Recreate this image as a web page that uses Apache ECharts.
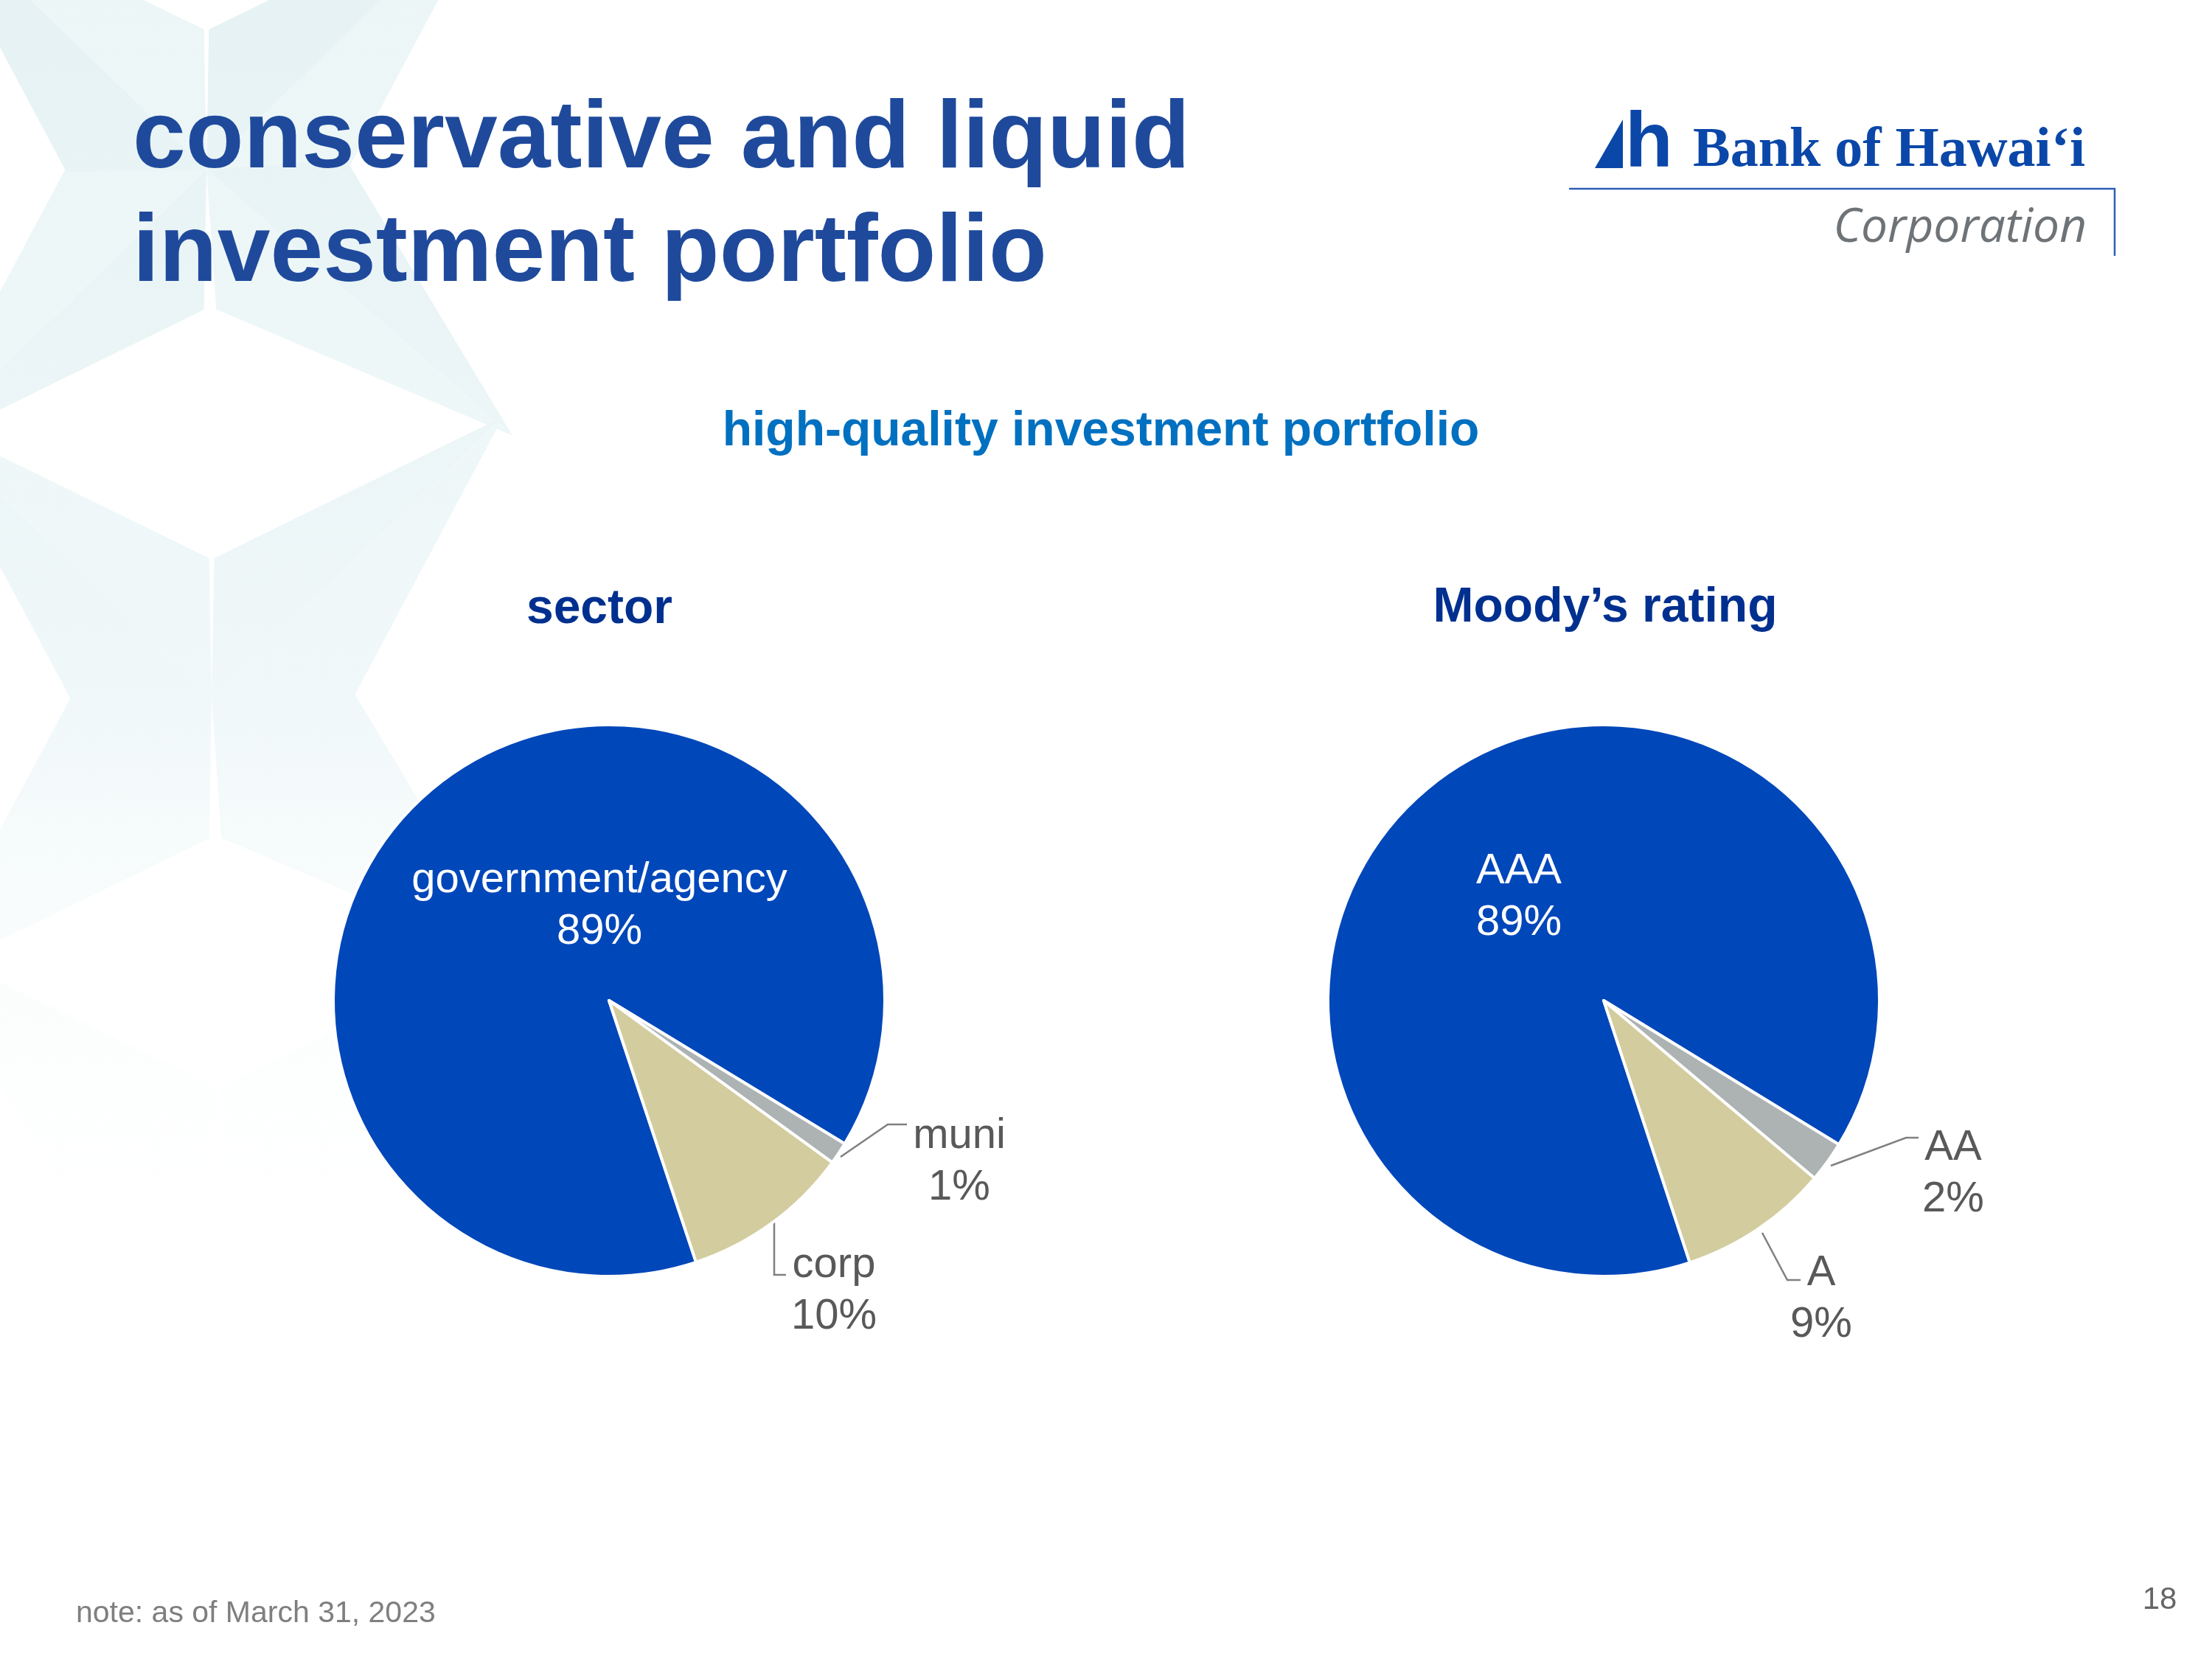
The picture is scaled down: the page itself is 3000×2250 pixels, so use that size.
<!DOCTYPE html>
<html><head><meta charset="utf-8">
<script src="https://cdn.jsdelivr.net/npm/echarts@6/dist/echarts.min.js"></script>
<style>html,body{margin:0;padding:0;background:#fff}#c{width:3000px;height:2250px}</style>
</head><body><div id="c"></div>
<script>
// ---- data ----
const sectorNames = ['government/agency', 'muni', 'corp'];
const sectorValues = [88.8, 1.3, 9.9];
const ratingNames = ['AAA', 'AA', 'A'];
const ratingValues = [88.8, 2.4, 8.8];
const chartTitles = ['sector', 'Moody\u2019s rating'];
const pageTitle = ['conservative and liquid', 'investment portfolio'];
const subTitle = 'high-quality investment portfolio';
const noteText = 'note: as of March 31, 2023';
const pageNumber = '18';

// ---- styling / layout ----
const sliceColors = ['#0047BA', '#ADB3B3', '#D3CC9E'];
const centers = [[826, 1357], [2175, 1357]];
const pieRadius = 374;
const F = '"Liberation Sans", Arial, sans-serif';
// label anchors and leader lines relative to pie centers
const labelCfg = [
  [ {t: [-13, -128]},
    {t: [475, 219], line: [[314, 212], [378, 168], [404, 168]]},
    {t: [305, 394], line: [[224, 242], [224, 372], [240, 372]]} ],
  [ {t: [-115, -140]},
    {t: [474, 235], line: [[308, 224], [410, 186], [427, 186]]},
    {t: [295, 405], line: [[215, 315], [249, 379], [267, 379]]} ]
];

function makeData(names, values) {
  return names.map((n, i) => {
    const d = {name: n, value: values[i], itemStyle: {color: sliceColors[i]}};
    if (i === 0) {
      d.label = {position: 'inside', color: '#FFFFFF'};
      d.labelLine = {show: false};
    }
    return d;
  });
}

function pieSeries(idx, names, values, startAngle) {
  return {
    type: 'pie',
    center: centers[idx],
    radius: [0, pieRadius],
    startAngle: startAngle,
    clockwise: true,
    avoidLabelOverlap: false,
    silent: true,
    animation: false,
    itemStyle: {borderColor: '#FFFFFF', borderWidth: 4},
    label: {
      show: true, position: 'outside',
      formatter: p => p.name + '\n' + Math.round(p.percent) + '%',
      fontFamily: F, fontSize: 58, lineHeight: 70, color: '#595959', align: 'center'
    },
    labelLine: {show: true, length: 20, length2: 20, lineStyle: {color: '#808080', width: 2.5}},
    labelLayout: function (p) {
      const cfg = labelCfg[p.seriesIndex][p.dataIndex];
      const c = centers[p.seriesIndex];
      const r = {x: c[0] + cfg.t[0], y: c[1] + cfg.t[1], align: 'center', verticalAlign: 'middle', hideOverlap: false};
      if (cfg.line) r.labelLinePoints = cfg.line.map(q => [c[0] + q[0], c[1] + q[1]]);
      return r;
    },
    emphasis: {disabled: true},
    data: makeData(names, values)
  };
}

// decorative faint X-shaped star lattice (background)
function starElements() {
  const starCenters = [[280, 230], [287, 947], [294, 1664]];
  const tipDirs = [46, 131, 226, 314]; // degrees clockwise from north
  const tipLen = 550, inner = 190;
  const els = [];
  const grad = (c) => ({type: 'linear', x: 0, y: 0, x2: 0, y2: 1750, global: true,
    colorStops: [{offset: 0, color: c}, {offset: 0.55, color: 'rgba(240,248,249,1)'}, {offset: 1, color: 'rgba(255,255,255,0)'}]});
  starCenters.forEach(C => {
    const pt = (angDeg, r) => {
      const a = angDeg * Math.PI / 180;
      return [C[0] + r * Math.sin(a), C[1] - r * Math.cos(a)];
    };
    tipDirs.forEach(ang => {
      const tip = pt(ang, tipLen);
      const l = pt(ang - 45, inner), r = pt(ang + 45, inner);
      els.push({type: 'polygon', silent: true, z: -10, shape: {points: [C, l, tip]}, style: {fill: grad('rgba(230,242,244,1)')}});
      els.push({type: 'polygon', silent: true, z: -10, shape: {points: [C, tip, r]}, style: {fill: grad('rgba(236,246,247,1)')}});
    });
  });
  return els;
}

function txt(text, x, y, font, fill, align) {
  return {type: 'text', x: x, y: y, silent: true, z: 10,
    style: {text: text, font: font, fill: fill, align: align || 'left', verticalAlign: 'middle'}};
}

const graphics = starElements().concat([
  txt(pageTitle[0], 180, 191, 'bold 129px ' + F, '#1F4A9C'),
  txt(pageTitle[1], 180, 345, 'bold 129px ' + F, '#1F4A9C'),
  txt(subTitle, 1493, 586, 'bold 66px ' + F, '#0070C0', 'center'),
  txt(chartTitles[0], 813, 827, 'bold 66px ' + F, '#00308F', 'center'),
  txt(chartTitles[1], 2177, 825, 'bold 66px ' + F, '#00308F', 'center'),
  txt(noteText, 103, 2189, '41px ' + F, '#7F7F7F'),
  txt(pageNumber, 2929, 2170, '42px ' + F, '#666666', 'center'),
  // logo
  {type: 'polygon', silent: true, shape: {points: [[2163, 228], [2201, 162], [2201, 228]]}, style: {fill: '#0A47A8'}},
  txt('h', 2204, 197, 'bold 106px ' + F, '#0A47A8'),
  txt('Bank of Hawai\u2018i', 2296, 205, 'bold 76px "Liberation Serif", serif', '#0A47A8'),
  {type: 'polyline', silent: true, shape: {points: [[2128, 256], [2868, 256], [2868, 347]]}, style: {stroke: '#2B5FB4', lineWidth: 2.5, fill: null}},
  txt('Corporation', 2830, 310, 'italic 64px "Open Sans", sans-serif', '#6E7377', 'right')
]);

const chart = echarts.init(document.getElementById('c'), null, {renderer: 'canvas'});
chart.setOption({
  backgroundColor: '#FFFFFF',
  animation: false,
  graphic: {elements: graphics},
  series: [
    pieSeries(0, sectorNames, sectorValues, 288.4),
    pieSeries(1, ratingNames, ratingValues, 288.2)
  ]
});
</script></body></html>
